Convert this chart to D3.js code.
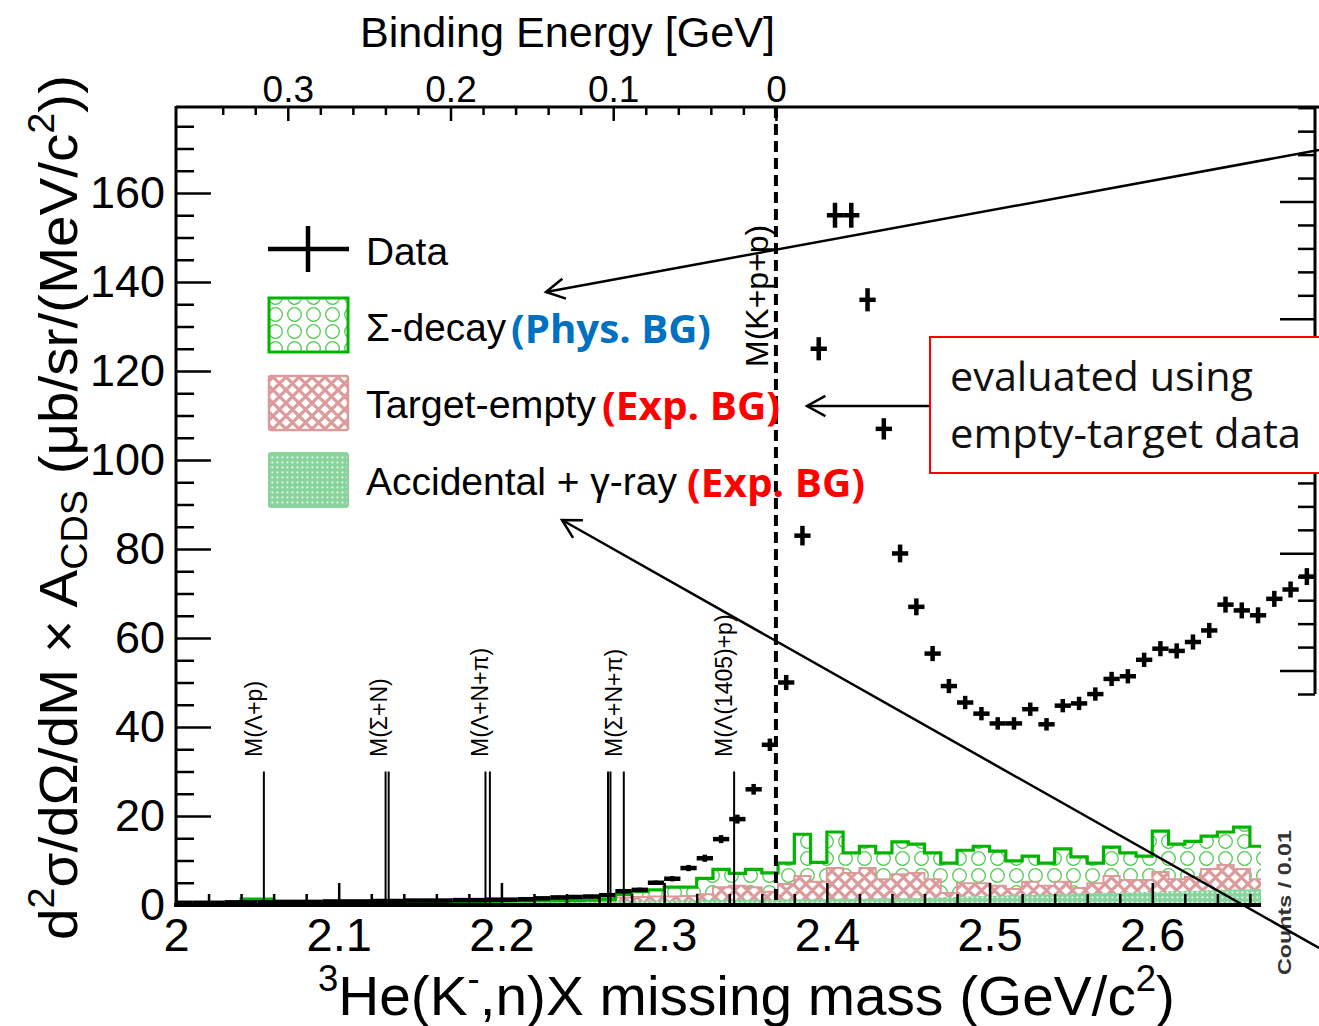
<!DOCTYPE html>
<html>
<head>
<meta charset="utf-8">
<script src="https://cdn.jsdelivr.net/npm/d3@7.9.0/dist/d3.min.js"></script>
<style>
  body { margin: 0; background: #fff; }
  svg text { font-family: "Liberation Sans", Arial, sans-serif; }
  .callout { font-family: "Open Sans", "Noto Sans", sans-serif !important; }
</style>
</head>
<body>
<svg id="chart" width="1319" height="1026"></svg>
<script>
// 3He(K-,n)X missing mass spectrum with backgrounds

// Data points: bin centres 2.005 ... 2.695 GeV/c2 (0.01 bins)
const dataValues = [
  0.5, 0.5, 0.5, 0.6, 0.6, 0.6, 0.7, 0.7, 0.7, 0.8, 0.8, 0.8, 0.9, 0.9,
  1.0, 1.0, 1.0, 1.1, 1.1, 1.2, 1.2, 1.3, 1.5, 1.7, 1.8, 1.9, 2.2,
  3.1, 3.4, 5.0, 5.9, 8.3, 10.5, 14.8, 19.3, 26, 36, 50, 83, 125, 155, 155,
  136, 107, 79, 67, 56.5, 49.2, 45.5, 43, 40.8, 40.8, 44, 40.6, 44.8, 45.3,
  47.4, 50.8, 51.4, 55.1, 57.6, 57.1, 59.1, 61.7, 67.5, 66.2, 65.1, 68.8,
  70.9, 73.8
];
const dataErrors = [
  0.3, 0.3, 0.3, 0.3, 0.3, 0.3, 0.3, 0.3, 0.3, 0.3, 0.3, 0.3, 0.3, 0.3,
  0.3, 0.3, 0.3, 0.3, 0.3, 0.3, 0.3, 0.3, 0.3, 0.4, 0.4, 0.4, 0.4,
  0.5, 0.5, 0.5, 0.6, 0.7, 0.8, 0.9, 1.0, 1.2, 1.4, 1.7, 2.2, 2.6, 2.8, 2.8,
  2.6, 2.4, 2.0, 1.9, 1.7, 1.6, 1.5, 1.5, 1.4, 1.4, 1.5, 1.4, 1.5, 1.5,
  1.5, 1.6, 1.6, 1.6, 1.7, 1.7, 1.7, 1.7, 1.8, 1.8, 1.8, 1.8, 1.8, 1.9
];

// Background histograms: bins 2.00 ... 2.66 (lower edges), stacked heights
const sigmaTop = [
  0.4, 0.4, 0.5, 0.5, 1.3, 1.3, 0.6, 0.5, 0.6, 0.6, 0.6, 0.6, 0.7, 0.7,
  0.7, 0.7, 0.8, 0.8, 0.8, 0.8, 0.9, 0.9, 1.0, 1.0, 1.0, 1.1, 1.2,
  2.4, 3.0, 3.4, 4.0, 4.0, 6.0, 8.0, 7.1, 8.0, 7.2,
  9.4, 15.9, 9.6, 16.4, 11.7, 13.2, 11.7, 14.2, 13.7, 11.7, 9.4, 12.3, 13.2,
  12.1, 9.9, 11.0, 9.4, 12.6, 10.8, 9.4, 13.0, 11.7, 11.0, 16.6, 13.7, 14.3,
  15.5, 16.4, 17.5, 13.2
];
const emptyTop = [
  0.3, 0.3, 0.4, 0.4, 1.3, 1.3, 0.5, 0.4, 0.5, 0.5, 0.5, 0.5, 0.6, 0.6,
  0.6, 0.6, 0.6, 0.7, 0.7, 0.7, 0.7, 0.8, 0.8, 0.8, 0.9, 0.9, 1.0,
  1.7, 1.8, 1.9, 1.9, 2.0, 2.4, 4.0, 4.3, 4.0, 3.0,
  4.7, 6.5, 5.2, 8.3, 7.2, 8.3, 5.8, 6.9, 7.2, 5.8, 2.7, 4.9, 4.9,
  4.3, 3.6, 5.2, 4.3, 5.2, 3.8, 4.9, 6.5, 5.6, 5.6, 7.4, 5.8, 6.3,
  8.1, 9.0, 8.1, 5.8
];
const accidentalTop = [
  0.2, 0.2, 0.2, 0.3, 0.3, 0.3, 0.3, 0.3, 0.3, 0.4, 0.4, 0.4, 0.4, 0.4,
  0.5, 0.5, 0.5, 0.5, 0.5, 0.6, 0.6, 0.6, 0.7, 0.7, 0.7, 0.8, 0.8,
  0.9, 0.9, 1.0, 1.0, 1.0, 1.1, 1.1, 1.1, 1.2, 1.2,
  1.3, 1.3, 1.3, 1.4, 1.4, 1.4, 1.5, 1.5, 1.6, 1.7, 1.8, 1.9, 2.0,
  2.1, 2.2, 2.3, 2.4, 2.5, 2.6, 2.7, 2.7, 2.8, 2.9, 3.0, 3.1, 3.2,
  3.3, 3.4, 3.5, 3.6
];

// Thresholds (GeV/c2)
const thresholdLabels = ['M(Λ+p)', 'M(Σ+N)', 'M(Λ+N+π)', 'M(Σ+N+π)', 'M(Λ(1405)+p)'];
const thresholdMasses = [[2.054], [2.1288, 2.1307], [2.1902, 2.1929], [2.2655, 2.2670, 2.2752], [2.343]];
const kppThreshold = 2.3687;

// Tick labels
const xTicks = [2, 2.1, 2.2, 2.3, 2.4, 2.5, 2.6];
const yTicks = [0, 20, 40, 60, 80, 100, 120, 140, 160];
const beTicks = [0, 0.1, 0.2, 0.3];

const svg = d3.select('#chart');
const x = d3.scaleLinear().domain([2, 2.7]).range([176, 1315]);
const y = d3.scaleLinear().domain([0, 160]).range([905, 193]);
const be = d3.scaleLinear().domain([kppThreshold - 2, kppThreshold - 2.7]).range([176, 1315]);
const counts = d3.scaleLinear().domain([4, 29]).range([694, 107.7]);
const xEnd = 2.6668;
const yTopVal = y.invert(107);

// patterns
const defs = svg.append('defs');
let pc = defs.append('pattern').attr('id', 'circles').attr('patternUnits', 'userSpaceOnUse')
  .attr('width', 19).attr('height', 17);
pc.append('rect').attr('width', 19).attr('height', 17).attr('fill', '#fff');
pc.append('circle').attr('cx', 9.5).attr('cy', 8.5).attr('r', 6.8)
  .attr('fill', 'none').attr('stroke', '#55c955').attr('stroke-width', 1.3);

let ph = defs.append('pattern').attr('id', 'hatch').attr('patternUnits', 'userSpaceOnUse')
  .attr('width', 13).attr('height', 13);
ph.append('rect').attr('width', 13).attr('height', 13).attr('fill', '#fff');
ph.append('path').attr('d', 'M-6.5,-6.5L19.5,19.5M19.5,-6.5L-6.5,19.5M-6.5,6.5L6.5,19.5M6.5,-6.5L19.5,6.5M6.5,19.5L19.5,6.5M-6.5,6.5L6.5,-6.5')
  .attr('stroke', '#dc9a9a').attr('stroke-width', 3.2);

let pd = defs.append('pattern').attr('id', 'dots').attr('patternUnits', 'userSpaceOnUse')
  .attr('width', 5).attr('height', 5);
pd.append('rect').attr('width', 5).attr('height', 5).attr('fill', '#88d49c');
pd.append('rect').attr('x', 1.5).attr('y', 1.5).attr('width', 1.8).attr('height', 1.8).attr('fill', '#f2fbf4');

defs.append('clipPath').attr('id', 'histClip').append('rect')
  .attr('x', 176).attr('y', 100).attr('width', x(xEnd) - 176).attr('height', 806);

// histograms
const binEdges = d3.range(sigmaTop.length + 1).map(i => 2 + 0.01 * i);
function steps(vals) {
  const pts = vals.map((v, i) => ({ e: binEdges[i], v }));
  pts.push({ e: binEdges[vals.length], v: vals[vals.length - 1] });
  return pts;
}
const area = d3.area().x(d => x(d.e)).y0(y(0)).y1(d => y(d.v)).curve(d3.curveStepAfter);
const stepLine = d3.line().x(d => x(d.e)).y(d => y(d.v)).curve(d3.curveStepAfter);

const hist = svg.append('g').attr('clip-path', 'url(#histClip)');
hist.append('path').attr('d', area(steps(sigmaTop))).attr('fill', 'url(#circles)');
hist.append('path').attr('d', area(steps(emptyTop))).attr('fill', 'url(#hatch)')
  .attr('stroke', '#dc9a9a').attr('stroke-width', 2);
hist.append('path').attr('d', area(steps(accidentalTop))).attr('fill', 'url(#dots)');
hist.append('path').attr('d', stepLine(steps(sigmaTop))).attr('fill', 'none')
  .attr('stroke', '#00b400').attr('stroke-width', 3.2);

// threshold lines and labels
thresholdMasses.forEach((ms, i) => {
  ms.forEach(m => {
    svg.append('line').attr('x1', x(m)).attr('x2', x(m)).attr('y1', y(0)).attr('y2', y(30))
      .attr('stroke', '#000').attr('stroke-width', 2);
  });
  svg.append('text')
    .attr('transform', `translate(${x(d3.max(ms)) - 2},757) rotate(-90)`)
    .attr('font-size', 23).text(thresholdLabels[i]);
});

// K + p + p threshold
svg.append('line').attr('x1', x(kppThreshold)).attr('x2', x(kppThreshold))
  .attr('y1', y(yTopVal)).attr('y2', y(0))
  .attr('stroke', '#000').attr('stroke-width', 4).attr('stroke-dasharray', '11,6');
svg.append('text').attr('transform', `translate(${x(kppThreshold) - 8},367) rotate(-90)`)
  .attr('font-size', 32).text('M(K+p+p)');

// data points
const dataG = svg.append('g').attr('stroke', '#000').attr('stroke-width', 4.5);
dataValues.forEach((v, i) => {
  const c = 2.005 + 0.01 * i;
  dataG.append('line').attr('x1', x(c - 0.005)).attr('x2', x(c + 0.005))
    .attr('y1', y(v)).attr('y2', y(v));
  dataG.append('line').attr('x1', x(c)).attr('x2', x(c))
    .attr('y1', y(v - dataErrors[i])).attr('y2', y(v + dataErrors[i]));
});

// axes
function styleAxis(g, fs) {
  g.select('.domain').remove();
  g.selectAll('line').attr('stroke', '#000').attr('stroke-width', 2.5);
  g.selectAll('text').attr('font-size', fs).attr('fill', '#000');
}
const notMajor = (step) => (v) => Math.abs(v / step - Math.round(v / step)) > 1e-6;

svg.append('g').attr('transform', `translate(0,${y(0)})`)
  .call(d3.axisBottom(x).tickValues(d3.range(2.02, 2.665, 0.02).filter(notMajor(0.1)))
    .tickFormat('').tickSizeInner(-11).tickSizeOuter(0))
  .call(g => styleAxis(g, 0));
svg.append('g').attr('transform', `translate(0,${y(0)})`)
  .call(d3.axisBottom(x).tickValues(xTicks).tickFormat(d => String(d))
    .tickSizeInner(-22).tickSizeOuter(0).tickPadding(13))
  .call(g => styleAxis(g, 47));

svg.append('g').attr('transform', 'translate(176,0)')
  .call(d3.axisLeft(y).tickValues(d3.range(5, 180, 5).filter(v => v % 20 !== 0))
    .tickFormat('').tickSizeInner(-18).tickSizeOuter(0))
  .call(g => styleAxis(g, 0));
svg.append('g').attr('transform', 'translate(176,0)')
  .call(d3.axisLeft(y).tickValues(yTicks).tickSizeInner(-35).tickSizeOuter(0).tickPadding(11))
  .call(g => styleAxis(g, 45));

svg.append('g').attr('transform', 'translate(0,107)')
  .call(d3.axisTop(be).tickValues(d3.range(0.02, 0.35, 0.02).filter(notMajor(0.1)))
    .tickFormat('').tickSizeInner(-8).tickSizeOuter(0))
  .call(g => styleAxis(g, 0));
svg.append('g').attr('transform', 'translate(0,107)')
  .call(d3.axisTop(be).tickValues(beTicks).tickFormat(d => String(d))
    .tickSizeInner(-14).tickSizeOuter(0).tickPadding(5))
  .call(g => styleAxis(g, 37));

const countTicks = d3.range(4, 30);
svg.append('g').attr('transform', 'translate(1315,0)')
  .call(d3.axisRight(counts).tickValues(countTicks.filter(v => v % 5 !== 0))
    .tickFormat('').tickSizeInner(-17).tickSizeOuter(0))
  .call(g => styleAxis(g, 0));
svg.append('g').attr('transform', 'translate(1315,0)')
  .call(d3.axisRight(counts).tickValues(countTicks.filter(v => v % 5 === 0))
    .tickFormat('').tickSizeInner(-35).tickSizeOuter(0))
  .call(g => styleAxis(g, 0));

// frame lines
svg.append('line').attr('x1', 176).attr('x2', 1319).attr('y1', 107).attr('y2', 107)
  .attr('stroke', '#000').attr('stroke-width', 3);
svg.append('line').attr('x1', 176).attr('x2', 176).attr('y1', 106).attr('y2', 907)
  .attr('stroke', '#000').attr('stroke-width', 3);
svg.append('line').attr('x1', 174).attr('x2', x(xEnd)).attr('y1', y(0)).attr('y2', y(0))
  .attr('stroke', '#000').attr('stroke-width', 4);
svg.append('line').attr('x1', 1315).attr('x2', 1315).attr('y1', 106).attr('y2', counts(4))
  .attr('stroke', '#000').attr('stroke-width', 3);

// axis titles
svg.append('text').attr('x', 360).attr('y', 47).attr('font-size', 43)
  .attr('textLength', 415).attr('lengthAdjust', 'spacingAndGlyphs').text('Binding Energy [GeV]');

const xt = svg.append('text').attr('x', 318).attr('y', 1015).attr('font-size', 56)
  .attr('textLength', 857).attr('lengthAdjust', 'spacingAndGlyphs');
xt.append('tspan').attr('font-size', 36).attr('dy', -24).text('3');
xt.append('tspan').attr('dy', 24).text('He(K');
xt.append('tspan').attr('font-size', 36).attr('dy', -24).text('-');
xt.append('tspan').attr('dy', 24).text(',n)X missing mass (GeV/c');
xt.append('tspan').attr('font-size', 36).attr('dy', -24).text('2');
xt.append('tspan').attr('dy', 24).text(')');

const yt = svg.append('text').attr('transform', 'translate(77,940) rotate(-90)').attr('font-size', 54)
  .attr('textLength', 865).attr('lengthAdjust', 'spacingAndGlyphs');
yt.append('tspan').text('d');
yt.append('tspan').attr('font-size', 36).attr('dy', -23).text('2');
yt.append('tspan').attr('dy', 23).text('σ/dΩ/dM × A');
yt.append('tspan').attr('font-size', 36).attr('dy', 10).text('CDS');
yt.append('tspan').attr('dy', -10).text(' (μb/sr/(MeV/c');
yt.append('tspan').attr('font-size', 36).attr('dy', -23).text('2');
yt.append('tspan').attr('dy', 23).text('))');

svg.append('text').attr('transform', 'translate(1291,975) rotate(-90)')
  .attr('font-size', 19).attr('font-weight', 'bold').attr('fill', '#333')
  .attr('textLength', 145).attr('lengthAdjust', 'spacingAndGlyphs').text('Counts / 0.01');

// legend
const leg = svg.append('g');
leg.append('line').attr('x1', 268).attr('x2', 349).attr('y1', 249).attr('y2', 249)
  .attr('stroke', '#000').attr('stroke-width', 4.5);
leg.append('line').attr('x1', 308).attr('x2', 308).attr('y1', 226).attr('y2', 272)
  .attr('stroke', '#000').attr('stroke-width', 4.5);
leg.append('rect').attr('x', 269).attr('y', 298).attr('width', 79).attr('height', 54)
  .attr('fill', 'url(#circles)').attr('stroke', '#00b400').attr('stroke-width', 3);
leg.append('rect').attr('x', 269).attr('y', 376).attr('width', 79).attr('height', 54).attr('rx', 2)
  .attr('fill', 'url(#hatch)').attr('stroke', '#dc9a9a').attr('stroke-width', 2.5);
leg.append('rect').attr('x', 269).attr('y', 453).attr('width', 79).attr('height', 54).attr('rx', 2)
  .attr('fill', 'url(#dots)').attr('stroke', '#88d49c').attr('stroke-width', 2);

const legendRows = [
  { label: 'Data', y: 265, w: 82 },
  { label: 'Σ-decay', y: 341, w: 140, tag: '(Phys. BG)', tagX: 511, tagW: 200, color: '#0070c0' },
  { label: 'Target-empty', y: 418, w: 230, tag: '(Exp. BG)', tagX: 602, tagW: 178, color: '#ff0000' },
  { label: 'Accidental + γ-ray', y: 495, w: 311, tag: '(Exp. BG)', tagX: 687, tagW: 178, color: '#ff0000' }
];
legendRows.forEach(r => {
  leg.append('text').attr('x', 366).attr('y', r.y).attr('font-size', 38)
    .attr('textLength', r.w).attr('lengthAdjust', 'spacingAndGlyphs').text(r.label);
  if (r.tag) {
    leg.append('text').attr('class', 'callout').attr('x', r.tagX).attr('y', r.y + 2)
      .attr('font-size', 40).attr('font-weight', 'bold').attr('fill', r.color)
      .attr('textLength', r.tagW).attr('lengthAdjust', 'spacingAndGlyphs').text(r.tag);
  }
});

// annotation arrows
const ann = svg.append('g').attr('stroke', '#000').attr('fill', 'none').attr('stroke-width', 2.5);
function arrow(x1, y1, x2, y2) {
  const a = Math.atan2(y1 - y2, x1 - x2), L = 21, s = 0.5;
  ann.append('line').attr('x1', x1).attr('y1', y1).attr('x2', x2).attr('y2', y2);
  ann.append('path').attr('d', d3.line()([
    [x2 + L * Math.cos(a + s), y2 + L * Math.sin(a + s)], [x2, y2],
    [x2 + L * Math.cos(a - s), y2 + L * Math.sin(a - s)]
  ]));
}
arrow(1319, 150, 546, 292);
arrow(930, 406, 807, 406);
arrow(1319, 948, 562, 520);

// callout box
svg.append('rect').attr('x', 930).attr('y', 337).attr('width', 420).attr('height', 136)
  .attr('fill', '#fff').attr('stroke', '#ff0000').attr('stroke-width', 2);
svg.append('text').attr('class', 'callout').attr('x', 950).attr('y', 391).attr('font-size', 40)
  .attr('fill', '#111').attr('textLength', 303).attr('lengthAdjust', 'spacingAndGlyphs')
  .text('evaluated using');
svg.append('text').attr('class', 'callout').attr('x', 950).attr('y', 448).attr('font-size', 40)
  .attr('fill', '#111').attr('textLength', 351).attr('lengthAdjust', 'spacingAndGlyphs')
  .text('empty-target data');
</script>
</body>
</html>
